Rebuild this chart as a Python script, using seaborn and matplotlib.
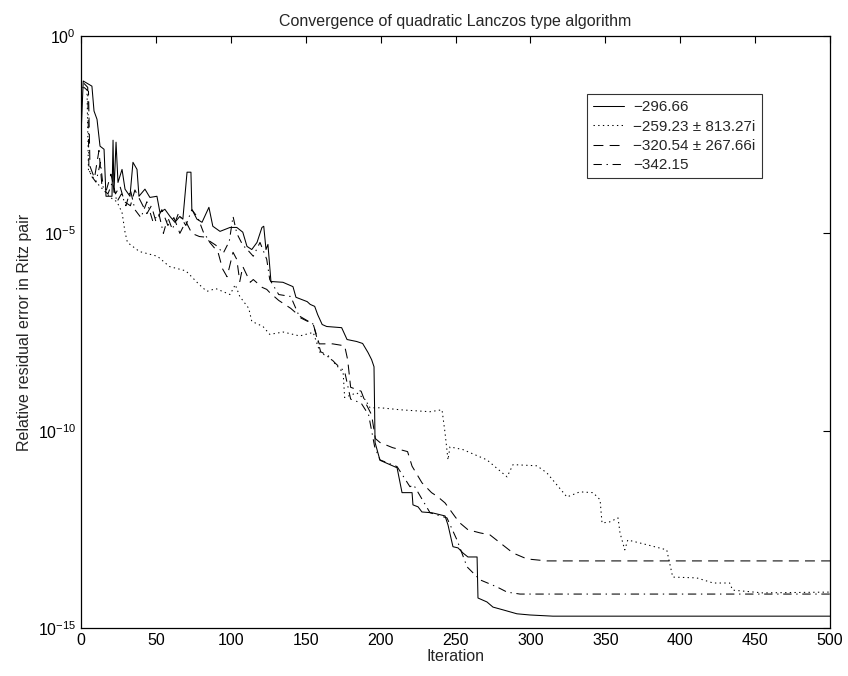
import numpy as np
import pandas as pd
import seaborn as sns
import matplotlib.pyplot as plt
from matplotlib.ticker import FixedLocator, NullLocator

sns.set_style("white")
plt.rcParams['font.family'] = ['Liberation Sans', 'DejaVu Sans']

# iteration / log10(residual) knots
solid_it = [0, 1.5, 7.3, 8.7, 10.7, 12.7, 15.4, 16.7, 20.7, 21.4, 22, 23.4, 24.7, 27.4, 29.4,
            32.7, 34.7, 37.4, 38.7, 42.7, 46, 50.7, 52.7, 56, 59.4, 62.7, 66, 68, 70.8, 73.4,
            74, 77.4, 80.8, 85.4, 88, 92.8, 99.5, 104, 108, 110.8, 114, 117.5, 120.8, 122,
            123.5, 124.8, 126.8, 134.8, 141.5, 143.5, 151, 153, 156, 158, 161, 164, 174, 177.6,
            184, 188, 191.6, 194, 195.6, 196.3, 199.6, 211, 214.3, 221, 221.6, 225, 227.6,
            234.3, 243, 245, 248.3, 251.7, 255, 258.3, 264.4, 265, 271, 275, 281.7, 291, 299.7,
            315, 500]
solid_log = [-2.54, -1.14, -1.27, -1.90, -2.11, -2.79, -2.87, -4.06, -4.06, -2.64, -3.96, -2.69,
             -3.71, -3.38, -3.88, -4.06, -3.2, -3.38, -4.06, -3.88, -4.09, -4.06, -4.47, -4.39,
             -4.57, -4.72, -4.57, -4.64, -3.45, -3.45, -4.39, -4.64, -4.72, -4.34, -4.82, -4.95,
             -4.85, -4.85, -4.97, -5.33, -5.41, -5.23, -4.85, -4.82, -5.41, -5.28, -6.22, -6.24,
             -6.35, -6.62, -6.73, -6.8, -6.85, -7.06, -7.31, -7.36, -7.39, -7.69, -7.74, -7.79,
             -8.02, -8.2, -8.38, -10.3, -10.75, -10.94, -11.57, -11.57, -11.88, -11.93, -12.06,
             -12.08, -12.16, -12.39, -12.94, -12.97, -13.1, -13.2, -13.2, -14.24, -14.34, -14.47,
             -14.54, -14.64, -14.67, -14.7, -14.7]

dot_it = [1, 4, 5, 10, 15, 20, 24, 27.4, 29.4, 31, 39, 51, 59, 70, 79, 84, 90, 99.5, 103, 106,
          112, 114, 121.5, 126, 135, 146, 155, 159.6, 166, 175, 176, 184, 189.6, 193, 200, 213,
          233, 241, 243, 245, 246.3, 255, 271, 284.4, 288.4, 304.4, 311, 324.4, 333, 341.8,
          346.5, 347.8, 353, 358.5, 359.8, 363, 365, 377.8, 391, 395, 411, 422, 433, 435, 455, 500]
dot_log = [-1.3, -1.35, -3.4, -3.7, -3.9, -4.1, -4.2, -4.47, -4.97, -5.23, -5.46, -5.58, -5.84,
           -5.95, -6.3, -6.47, -6.4, -6.55, -6.3, -6.6, -6.9, -7.23, -7.36, -7.56, -7.5, -7.6,
           -7.51, -8.02, -8.15, -8.53, -9.16, -9.04, -9.21, -9.42, -9.42, -9.47, -9.52, -9.47,
           -10.05, -10.74, -10.41, -10.48, -10.74, -11.17, -10.86, -10.89, -11.07, -11.68, -11.55,
           -11.57, -11.75, -12.34, -12.31, -12.21, -12.59, -13.02, -12.77, -12.89, -13.02, -13.71,
           -13.73, -13.86, -13.86, -14.04, -14.11, -14.09]

dash_it = [2, 5, 6, 9, 12, 14, 17, 20, 23, 26, 29, 33, 36, 40, 44, 47, 50, 54, 58, 62, 66, 70,
           74, 79, 84, 86, 91.5, 94.5, 97.5, 101.5, 104, 106, 108, 113, 115, 121, 124, 126, 132,
           140, 146, 155, 159, 168, 176, 178, 180, 187, 190, 194, 196.5, 199.6, 208, 218, 221,
           227.6, 234, 238, 243, 249.7, 253, 258.3, 266.4, 273, 279.7, 288.4, 297.7, 311, 500]
dash_log = [-1.3, -1.4, -3.3, -3.6, -2.9, -3.8, -3.9, -3.5, -4.0, -3.8, -4.2, -4.3, -3.9, -4.2,
            -4.5, -4.3, -4.7, -4.4, -4.8, -4.6, -5.0, -4.7, -5.0, -5.08, -5.1, -5.23, -5.48, -5.9,
            -6.1, -5.48, -5.66, -6.22, -5.84, -6.24, -6.17, -6.37, -6.42, -6.5, -6.7, -6.9, -7.1,
            -7.3, -7.8, -7.8, -7.85, -8.2, -8.9, -9.0, -9.3, -9.6, -10.2, -10.3, -10.43, -10.53,
            -10.9, -11.32, -11.57, -11.67, -11.83, -12.18, -12.34, -12.51, -12.59, -12.64, -12.84,
            -13.1, -13.25, -13.3, -13.3]

dashdot_it = [2, 4.5, 5.3, 7, 10, 13, 15, 18, 21, 24, 27, 30, 33, 36, 40, 44, 48, 52, 55, 58, 61,
              65, 70, 74, 78, 82, 86, 90, 95, 99, 101.5, 104, 108, 111, 115, 119.5, 124, 126, 132,
              140, 146, 155, 160, 165, 170, 176, 180, 187, 192, 196, 199.6, 211, 219.6, 222, 233,
              244.3, 251, 257.7, 266.4, 277.7, 284.4, 293, 500]
dashdot_log = [-1.2, -1.3, -3.38, -3.55, -3.7, -3.2, -3.9, -4.0, -3.7, -4.2, -4.0, -4.3, -3.9,
               -4.4, -4.6, -4.2, -4.7, -4.5, -5.0, -4.6, -4.9, -4.5, -4.8, -4.4, -4.6, -5.0, -5.2,
               -5.3, -5.5, -5.2, -4.57, -5.0, -5.3, -5.41, -5.58, -5.23, -5.66, -6.17, -6.55, -6.6,
               -7.13, -7.3, -8.0, -8.1, -8.3, -8.5, -9.2, -9.3, -9.6, -10.4, -10.74, -10.91, -11.42,
               -11.37, -12.08, -12.21, -12.77, -13.45, -13.78, -13.96, -14.09, -14.14, -14.14]

labels = ['\u2212296.66', '\u2212259.23 \u00b1 813.27i',
          '\u2212320.54 \u00b1 267.66i', '\u2212342.15']
series = [(solid_it, solid_log, '-'),
          (dot_it, dot_log, (0, (1.3, 3.2))),
          (dash_it, dash_log, (0, (9.5, 6))),
          (dashdot_it, dashdot_log, (0, (8, 4.5, 1.3, 4.5)))]

fig = plt.figure(figsize=(8.48, 6.76), dpi=100)
ax = fig.add_axes([0.0955, 0.071, 0.8833, 0.8757])

for (it, lg, ls), lab in zip(series, labels):
    df = pd.DataFrame({'iteration': it, 'residual': 10.0 ** np.array(lg)})
    sns.lineplot(data=df, x='iteration', y='residual', ax=ax, color='black',
                 linewidth=0.75, linestyle=ls, estimator=None, sort=False, label=lab)

ax.set_yscale('log')
ax.set_xlim(0, 500)
ax.set_ylim(1e-15, 1e0)
ax.set_xticks(np.arange(0, 501, 50))
ax.yaxis.set_major_locator(FixedLocator([1e-15, 1e-10, 1e-5, 1e0]))
ax.yaxis.set_minor_locator(NullLocator())
ax.tick_params(direction='in', top=True, right=True, length=5, width=0.8,
               labelsize=11.5, colors='black')
for sp in ax.spines.values():
    sp.set_color('black')
    sp.set_linewidth(0.9)

ax.set_title('Convergence of quadratic Lanczos type algorithm', fontsize=11.5, pad=7)
ax.set_xlabel('Iteration', fontsize=11.5, labelpad=1)
ax.set_ylabel('Relative residual error in Ritz pair', fontsize=11.5, labelpad=4)

leg = ax.legend(loc='upper left', bbox_to_anchor=(0.676, 0.902), fontsize=11,
                frameon=True, fancybox=False, handlelength=2.0, borderpad=0.4,
                labelspacing=0.35, handletextpad=0.6, borderaxespad=0)
leg.get_frame().set_edgecolor('black')
leg.get_frame().set_linewidth(0.8)

fig.savefig('out.png', dpi=100, facecolor='white')
